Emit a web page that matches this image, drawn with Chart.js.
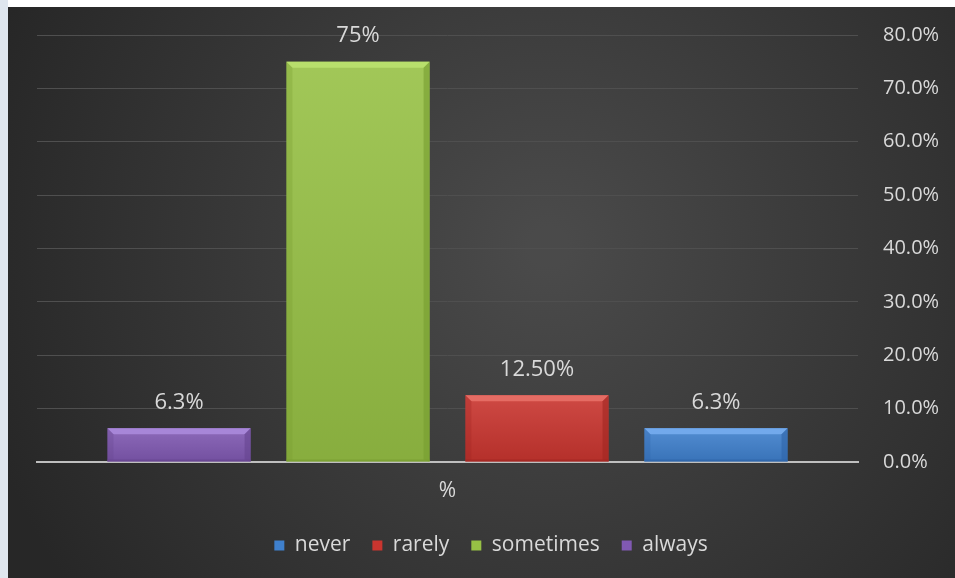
<!DOCTYPE html>
<html>
<head>
<meta charset="utf-8">
<script src="https://cdn.jsdelivr.net/npm/chart.js@4/dist/chart.umd.min.js"></script>
<style>
  html, body { margin: 0; padding: 0; background: #ffffff; }
  body { width: 955px; height: 578px; position: relative; overflow: hidden; }
  #strip { position: absolute; left: 0; top: 0; width: 8px; height: 578px; background: #dfe6ee; }
  #wrap { position: absolute; left: 8px; top: 7px; width: 947px; height: 571px; }
</style>
</head>
<body>
<div id="strip"></div>
<div id="wrap"><canvas id="c" width="947" height="571"></canvas></div>
<script>
// Categories / series (display order left to right)
const categories = ['%'];
const seriesNames = ['always', 'sometimes', 'rarely', 'never'];
const seriesValues = [6.3, 75, 12.5, 6.3];
const valueLabels = ['6.3%', '75%', '12.50%', '6.3%'];
const yTicks = [0, 10, 20, 30, 40, 50, 60, 70, 80];
const seriesColors = ['#8059b2', '#97c145', '#c9352f', '#3f80cd'];
const seriesLight = ['#a786d8', '#b8df6c', '#e56c64', '#72a9ec'];
const seriesDark = ['#66448f', '#779c30', '#a02622', '#2e64a8'];

const FONT = '"Open Sans", Lato, sans-serif';

const bgPlugin = {
  id: 'bg',
  beforeDraw(chart) {
    const { ctx, width, height } = chart;
    ctx.save();
    const g = ctx.createRadialGradient(width * 0.57, height * 0.42, 20, width * 0.57, height * 0.42, width * 0.62);
    g.addColorStop(0, '#4a4a4a');
    g.addColorStop(1, '#272727');
    ctx.fillStyle = g;
    ctx.fillRect(0, 0, width, height);
    ctx.restore();
  }
};

const bevelPlugin = {
  id: 'bevel',
  afterDatasetsDraw(chart) {
    const { ctx } = chart;
    ctx.save();
    chart.data.datasets.forEach((ds, i) => {
      const meta = chart.getDatasetMeta(i);
      meta.data.forEach((bar) => {
        const L = bar.x - bar.width / 2, R = bar.x + bar.width / 2;
        const T = Math.min(bar.y, bar.base), B = Math.max(bar.y, bar.base);
        const b = Math.min(6, (B - T) / 3);
        const g = ctx.createLinearGradient(0, T, 0, B);
        g.addColorStop(0, 'rgba(255,255,255,0.10)');
        g.addColorStop(1, 'rgba(0,0,0,0.10)');
        ctx.fillStyle = g;
        ctx.fillRect(L, T, R - L, B - T);
        ctx.fillStyle = seriesLight[i];
        ctx.beginPath();
        ctx.moveTo(L, T); ctx.lineTo(R, T); ctx.lineTo(R - b, T + b); ctx.lineTo(L + b, T + b); ctx.closePath();
        ctx.fill();
        ctx.fillStyle = seriesDark[i];
        ctx.globalAlpha = 0.6;
        ctx.beginPath();
        ctx.moveTo(R, T); ctx.lineTo(R, B); ctx.lineTo(R - b, B - 2); ctx.lineTo(R - b, T + b); ctx.closePath();
        ctx.fill();
        ctx.globalAlpha = 0.3;
        ctx.beginPath();
        ctx.moveTo(L, T); ctx.lineTo(L, B); ctx.lineTo(L + b, B - 2); ctx.lineTo(L + b, T + b); ctx.closePath();
        ctx.fill();
        ctx.globalAlpha = 0.7;
        ctx.fillRect(L, B - 2, R - L, 2);
        ctx.globalAlpha = 1;
        ctx.font = '22px ' + FONT;
        ctx.fillStyle = '#d9d9d9';
        ctx.textAlign = 'center';
        ctx.textBaseline = 'middle';
        ctx.fillText(valueLabels[i], bar.x, T - 26);
      });
    });
    ctx.restore();
  }
};

const datasets = seriesNames.map((name, i) => ({
  label: name,
  data: [seriesValues[i]],
  backgroundColor: seriesColors[i],
  borderWidth: 0,
  barPercentage: 0.8,
  categoryPercentage: 0.872
}));

new Chart(document.getElementById('c'), {
  type: 'bar',
  data: { labels: categories, datasets },
  options: {
    responsive: false,
    animation: false,
    layout: { padding: { left: 29, top: 28, right: 10, bottom: 12 } },
    plugins: {
      legend: {
        position: 'bottom',
        reverse: true,
        labels: {
          color: '#d9d9d9',
          font: { size: 21, family: FONT },
          boxWidth: 10,
          boxHeight: 10,
          padding: 22
        }
      },
      tooltip: { enabled: false }
    },
    scales: {
      x: {
        grid: { display: false, drawTicks: false },
        border: { color: '#bfbfbf', width: 2 },
        afterFit(scale) { scale.height = 51; },
        ticks: {
          color: '#d9d9d9',
          font: { size: 21, family: FONT },
          padding: 16
        }
      },
      y: {
        position: 'right',
        min: 0,
        max: 80,
        afterBuildTicks(scale) { scale.ticks = yTicks.map(v => ({ value: v })); },
        afterFit(scale) { scale.width = 87; scale.paddingTop = 0; scale.paddingBottom = 0; },
        grid: { color: '#4f4f4f', lineWidth: 1, drawTicks: false },
        border: { display: false },
        ticks: {
          color: '#d9d9d9',
          font: { size: 20, family: FONT },
          padding: 25,
          callback: (v) => v.toFixed(1) + '%'
        }
      }
    }
  },
  plugins: [bgPlugin, bevelPlugin]
});
</script>
</body>
</html>
